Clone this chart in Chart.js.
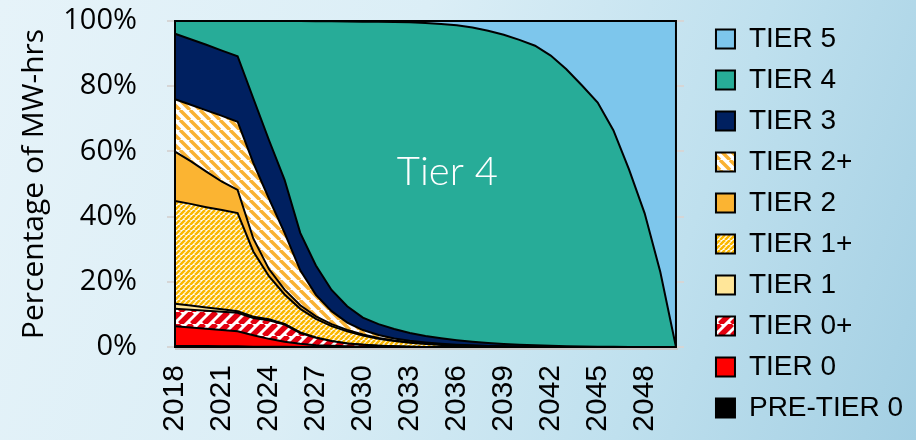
<!DOCTYPE html>
<html>
<head>
<meta charset="utf-8">
<script src="https://cdn.jsdelivr.net/npm/chart.js@4.4.1/dist/chart.umd.min.js"></script>
<style>
    html, body { margin: 0; padding: 0; }
    body {
        width: 916px;
        height: 440px;
        overflow: hidden;
        background: linear-gradient(110deg, #e6f3f9 0%, #dbeef6 40%, #bfe0ee 72%, #a3cfe3 100%);
    }
    #chart-wrap { position: relative; width: 916px; height: 440px; }
</style>
</head>
<body>
<div id="chart-wrap"><canvas id="tiers-chart"></canvas></div>
<script>
// Share of MW-hrs by engine tier, 2018-2050 (percent)
const years = [
    '2018', '2019', '2020', '2021', '2022', '2023', '2024', '2025', '2026', '2027', '2028',
    '2029', '2030', '2031', '2032', '2033', '2034', '2035', '2036', '2037', '2038', '2039',
    '2040', '2041', '2042', '2043', '2044', '2045', '2046', '2047', '2048', '2049', '2050',
];

const preTier0 = [0.3, 0.3, 0.3, 0.2, 0.2, 0.1, 0.1, 0.05, 0, 0, 0, 0, 0, 0, 0, 0, 0, 0, 0, 0, 0, 0, 0, 0, 0, 0, 0, 0, 0, 0, 0, 0, 0];
const tier0 = [6.1, 5.7, 5.3, 5.0, 4.6, 3.5, 2.4, 1.55, 1.0, 0.55, 0.35, 0.2, 0.1, 0.05, 0, 0, 0, 0, 0, 0, 0, 0, 0, 0, 0, 0, 0, 0, 0, 0, 0, 0, 0];
const tier0Plus = [5.3, 5.4, 5.5, 5.6, 5.7, 5.3, 5.7, 5.3, 3.3, 2.25, 1.45, 0.9, 0.6, 0.35, 0.2, 0.1, 0, 0, 0, 0, 0, 0, 0, 0, 0, 0, 0, 0, 0, 0, 0, 0, 0];
const tier1 = [1.6, 1.3, 1.0, 0.8, 0.5, 0.4, 0.3, 0.2, 0.15, 0.1, 0.05, 0, 0, 0, 0, 0, 0, 0, 0, 0, 0, 0, 0, 0, 0, 0, 0, 0, 0, 0, 0, 0, 0];
const tier1Plus = [31.5, 31.2, 30.8, 30.4, 30.1, 20.0, 13.2, 9.0, 7.25, 5.7, 4.55, 3.7, 2.8, 2.1, 1.6, 1.2, 0.9, 0.6, 0.4, 0.25, 0.15, 0.1, 0.05, 0, 0, 0, 0, 0, 0, 0, 0, 0, 0];
const tier2 = [15.1, 13.1, 10.9, 8.7, 7.1, 4.0, 2.2, 1.5, 1.1, 0.8, 0.6, 0.45, 0.35, 0.25, 0.2, 0.15, 0.1, 0.05, 0, 0, 0, 0, 0, 0, 0, 0, 0, 0, 0, 0, 0, 0, 0];
const tier2Plus = [16.1, 17.3, 18.8, 20.2, 20.9, 23.2, 21.6, 17.4, 10.7, 6.6, 4.0, 2.25, 1.35, 0.95, 0.6, 0.45, 0.4, 0.35, 0.3, 0.25, 0.15, 0.1, 0.05, 0.05, 0, 0, 0, 0, 0, 0, 0, 0, 0];
const tier3 = [20.1, 20.1, 20.1, 20.0, 20.1, 19.8, 18.0, 16.3, 11.5, 9.0, 6.5, 5.0, 3.8, 3.3, 2.9, 2.4, 2.0, 1.7, 1.4, 1.1, 0.9, 0.7, 0.6, 0.45, 0.35, 0.25, 0.15, 0.1, 0.05, 0, 0, 0, 0];
const tier4 = [3.9, 5.6, 7.3, 9.1, 10.8, 23.7, 36.5, 48.7, 65.0, 74.95, 82.4, 87.35, 90.8, 92.75, 94.2, 95.3, 96.0, 96.4, 96.6, 96.4, 95.8, 94.9, 93.5, 91.9, 89.05, 84.95, 80.05, 74.9, 66.45, 54.5, 41.0, 23.0, 0];
const tier5 = [0, 0, 0, 0, 0, 0, 0, 0, 0, 0.05, 0.1, 0.15, 0.2, 0.25, 0.3, 0.4, 0.6, 0.9, 1.3, 2.0, 3.0, 4.2, 5.8, 7.6, 10.6, 14.8, 19.8, 25.0, 33.5, 45.5, 59.0, 77.0, 100];

const yTicks = [0, 20, 40, 60, 80, 100];
const labelEvery = 3;

// where the in-plot "Tier 4" caption sits, in axis units (category index, percent)
const tierCaption = { text: 'Tier 4', index: 17.4, value: 49.7 };

const makeStripes = (background, stripe, size, width, direction) => {
    const tile = document.createElement('canvas');
    tile.width = size;
    tile.height = size;
    const tctx = tile.getContext('2d');
    tctx.fillStyle = background;
    tctx.fillRect(0, 0, size, size);
    tctx.strokeStyle = stripe;
    tctx.lineWidth = width;
    tctx.beginPath();
    [-size, 0, size].forEach((o) => {
        if (direction === 'up') {
            tctx.moveTo(o, size);
            tctx.lineTo(o + size, 0);
        } else {
            tctx.moveTo(o, 0);
            tctx.lineTo(o + size, size);
        }
    });
    tctx.stroke();
    return tctx.createPattern(tile, 'repeat');
};

const series = [
    { label: 'PRE-TIER 0', data: preTier0, fill: '#000000' },
    { label: 'TIER 0', data: tier0, fill: '#ff0000' },
    { label: 'TIER 0+', data: tier0Plus, fill: makeStripes('#ffffff', '#e3000f', 12, 5.5, 'up') },
    { label: 'TIER 1', data: tier1, fill: '#ffe699' },
    { label: 'TIER 1+', data: tier1Plus, fill: makeStripes('#ffffff', '#fbb800', 5, 2.6, 'up') },
    { label: 'TIER 2', data: tier2, fill: '#fbb432' },
    { label: 'TIER 2+', data: tier2Plus, fill: makeStripes('#ffffff', '#f9b233', 10, 3.5, 'down') },
    { label: 'TIER 3', data: tier3, fill: '#002060' },
    { label: 'TIER 4', data: tier4, fill: '#27ac98' },
    { label: 'TIER 5', data: tier5, fill: '#7dc6ec' },
];

const plotFrame = {
    id: 'plotFrame',
    afterDatasetsDraw(chart) {
        const { ctx, chartArea: { left, top, right, bottom } } = chart;
        ctx.save();
        ctx.strokeStyle = '#c8c8c8';
        ctx.lineWidth = 2;
        ctx.beginPath();
        ctx.moveTo(left, bottom + 2);
        ctx.lineTo(right + 2, bottom + 2);
        ctx.stroke();
        ctx.strokeStyle = '#000000';
        ctx.lineWidth = 2;
        ctx.strokeRect(left, top, right - left, bottom - top);
        ctx.restore();
    }
};

const areaCaption = {
    id: 'areaCaption',
    afterDatasetsDraw(chart) {
        const { ctx, scales: { x, y } } = chart;
        ctx.save();
        ctx.font = '300 40px Lato';
        ctx.fillStyle = '#ffffff';
        ctx.textAlign = 'center';
        ctx.textBaseline = 'alphabetic';
        ctx.fillText(tierCaption.text, x.getPixelForValue(tierCaption.index), y.getPixelForValue(tierCaption.value));
        ctx.restore();
    }
};

const context = document.getElementById('tiers-chart').getContext('2d');

const tiersChart = new Chart(context, {
    type: 'line',
    data: {
        labels: years,
        datasets: series.map((s, i) => ({
            label: s.label,
            data: s.data,
            backgroundColor: s.fill,
            borderColor: '#000000',
            borderWidth: 2,
            pointRadius: 0,
            pointHoverRadius: 0,
            fill: i === 0 ? 'origin' : '-1',
        }))
    },
    options: {
        responsive: true,
        maintainAspectRatio: false,
        animation: false,
        devicePixelRatio: 1,
        layout: {
            padding: { top: 7, right: 3, bottom: 0, left: 0 }
        },
        scales: {
            x: {
                grid: { display: false, drawTicks: false },
                border: { display: false },
                ticks: {
                    autoSkip: false,
                    minRotation: 90,
                    maxRotation: 90,
                    padding: 18,
                    color: '#000000',
                    font: { family: 'Liberation Sans', size: 30 },
                    callback: (value, index) => (index % labelEvery === 0 ? years[index] : ''),
                },
                afterFit: (scale) => {
                    scale.height = 93;
                }
            },
            y: {
                stacked: true,
                min: 0,
                max: 100,
                afterBuildTicks: (scale) => {
                    scale.ticks = yTicks.map(v => ({ value: v }));
                },
                grid: { drawOnChartArea: false, tickLength: 8, color: '#d6d6d6', lineWidth: 2 },
                border: { display: false },
                ticks: {
                    padding: 30,
                    color: '#000000',
                    font: { family: 'Open Sans', size: 29 },
                    callback: (value) => value + '%',
                },
                title: {
                    display: true,
                    text: 'Percentage of MW-hrs',
                    color: '#000000',
                    padding: { top: 16, bottom: 0 },
                    font: { family: 'Open Sans', size: 30 },
                },
                afterFit: (scale) => {
                    scale.width = 175;
                    scale.paddingTop = 21;
                    scale.paddingBottom = 0;
                }
            },
            yRight: {
                position: 'right',
                min: 0,
                max: 100,
                afterBuildTicks: (scale) => {
                    scale.ticks = yTicks.map(v => ({ value: v }));
                },
                grid: { drawOnChartArea: false, tickLength: 8, color: '#d6d6d6', lineWidth: 2 },
                border: { display: false },
                ticks: { display: false },
                afterFit: (scale) => {
                    scale.width = 27;
                }
            }
        },
        plugins: {
            legend: {
                position: 'right',
                reverse: true,
                maxWidth: 240,
                labels: {
                    boxWidth: 19,
                    boxHeight: 19,
                    padding: 13,
                    color: '#000000',
                    font: { family: 'Liberation Sans', size: 28 }
                }
            },
            tooltip: { enabled: false }
        }
    },
    plugins: [plotFrame, areaCaption]
});
</script>
</body>
</html>
